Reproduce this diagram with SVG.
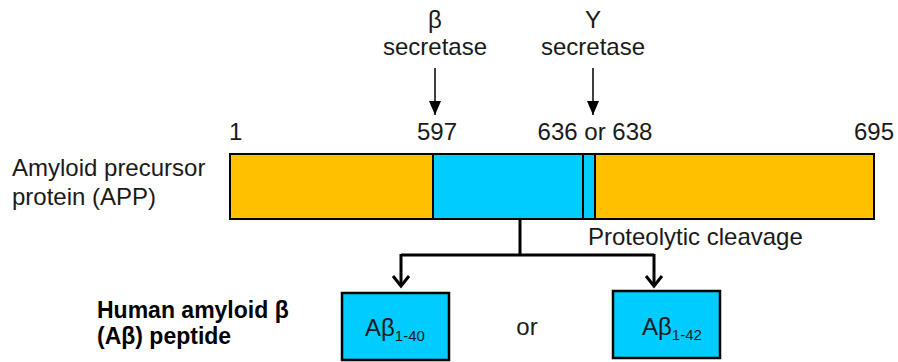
<svg xmlns="http://www.w3.org/2000/svg" width="898" height="362" viewBox="0 0 898 362">
<defs>
<style>
text{font-family:"Liberation Sans",Arial,sans-serif;font-size:24px;fill:#1a1a1a}
.b{font-weight:bold;font-size:23px;fill:#000}
.sub{font-size:15px}
.box{fill:#00ccff;stroke:#000;stroke-width:2.5}
.thin{stroke:#000;stroke-width:1.5;fill:none}
.thick{stroke:#000;stroke-width:3;fill:none}
</style>
<marker id="ah" viewBox="0 0 14 12" refX="14" refY="6" markerWidth="14" markerHeight="12" markerUnits="userSpaceOnUse" orient="auto">
<path d="M0,0 L14,6 L0,12 Z" fill="#000"/>
</marker>
</defs>
<g id="beta-secretase">
<text x="435" y="28" text-anchor="middle">β</text>
<text x="435" y="55" text-anchor="middle">secretase</text>
</g>
<g id="gamma-secretase">
<text x="593" y="28" text-anchor="middle">Y</text>
<text x="593" y="55" text-anchor="middle">secretase</text>
</g>
<g id="positions">
<text x="229" y="140">1</text>
<text x="437" y="140" text-anchor="middle">597</text>
<text x="595" y="140" text-anchor="middle">636 or 638</text>
<text x="874" y="140" text-anchor="middle">695</text>
</g>
<g id="app">
<text x="12" y="176">Amyloid precursor</text>
<text x="12" y="205">protein (APP)</text>
<rect x="230" y="154" width="644" height="65" fill="#ffc000" stroke="#000" stroke-width="2"/>
<rect x="433" y="154" width="162" height="65" fill="#00ccff" stroke="#000" stroke-width="2"/>
<line x1="583" y1="154" x2="583" y2="219" stroke="#000" stroke-width="2"/>
</g>
<g id="connectors">
<line class="thin" x1="435" y1="68" x2="435" y2="115" marker-end="url(#ah)"/>
<line class="thin" x1="593" y1="68" x2="593" y2="115" marker-end="url(#ah)"/>
<path class="thick" d="M520,220 V255 M401,255 H654 M401,254 V285 M654,254 V285"/>
<path class="thick" d="M393,276 L401,286 L409,276 M646,276 L654,286 L662,276"/>
</g>
<g id="cleavage-label">
<text x="588" y="245">Proteolytic cleavage</text>
</g>
<g id="abeta-label">
<text class="b" x="97" y="318">Human amyloid β</text>
<text class="b" x="97" y="344">(Aβ) peptide</text>
</g>
<g id="ab40">
<rect class="box" x="342" y="293" width="107" height="67"/>
<text x="365" y="336">Aβ<tspan class="sub" dy="5">1-40</tspan></text>
</g>
<g id="or-label">
<text x="527" y="335" text-anchor="middle">or</text>
</g>
<g id="ab42">
<rect class="box" x="613" y="291" width="107" height="67"/>
<text x="642" y="335">Aβ<tspan class="sub" dy="5">1-42</tspan></text>
</g>
</svg>
